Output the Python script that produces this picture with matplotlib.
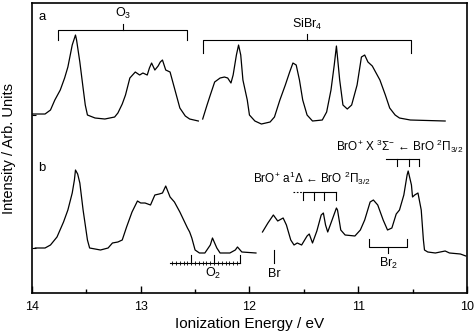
import numpy as np
import matplotlib
matplotlib.use("Agg")
import matplotlib.pyplot as plt

plt.rcParams["font.family"] = ["Liberation Sans", "DejaVu Sans"]
plt.rcParams["mathtext.fontset"] = "custom"
plt.rcParams["mathtext.rm"] = "Liberation Sans"
plt.rcParams["mathtext.it"] = "Liberation Sans"

# spectrum a (O3 + SiBr4), two pieces
a1_energy = [14.00, 13.88, 13.83, 13.79, 13.74, 13.70, 13.67, 13.63, 13.60, 13.59, 13.56, 13.53,
             13.51, 13.49, 13.42, 13.33, 13.24, 13.21, 13.17, 13.14, 13.10, 13.05, 13.01, 12.98,
             12.94, 12.92, 12.90, 12.87, 12.84, 12.82, 12.80, 12.77, 12.73, 12.69, 12.64, 12.59,
             12.55, 12.47]
a1_signal = [179, 179, 183, 193, 203, 215, 226, 248, 258, 253, 231, 205,
             188, 178, 175, 174, 176, 180, 189, 198, 215, 221, 218, 220,
             218, 225, 230, 223, 227, 231, 233, 223, 221, 205, 185, 177,
             174, 172]
a2_energy = [12.43, 12.39, 12.36, 12.32, 12.27, 12.23, 12.20, 12.17, 12.15, 12.12, 12.10, 12.08,
             12.06, 12.02, 12.00, 11.95, 11.89, 11.81, 11.77, 11.72, 11.67, 11.63, 11.60, 11.57,
             11.54, 11.51, 11.47, 11.42, 11.33, 11.29, 11.25, 11.22, 11.20, 11.17, 11.14, 11.10,
             11.06, 11.01, 10.97, 10.94, 10.91, 10.87, 10.85, 10.80, 10.75, 10.71, 10.66, 10.62,
             10.52, 10.20]
a2_signal = [174, 188, 198, 211, 215, 216, 215, 210, 218, 238, 248, 238,
             213, 193, 178, 172, 169, 171, 176, 193, 208, 221, 230, 228,
             213, 193, 178, 172, 173, 181, 203, 228, 247, 213, 188, 184,
             188, 208, 236, 238, 231, 227, 223, 213, 198, 185, 178, 175,
             173, 172]

# spectrum b (discharge products), two pieces
b1_energy = [13.97, 13.88, 13.83, 13.77, 13.71, 13.67, 13.63, 13.61, 13.60, 13.58, 13.56, 13.53,
             13.49, 13.47, 13.37, 13.30, 13.26, 13.21, 13.17, 13.13, 13.08, 13.03, 13.00, 12.96,
             12.91, 12.87, 12.83, 12.80, 12.77, 12.73, 12.69, 12.64, 12.57, 12.55, 12.53, 12.50,
             12.46, 12.41, 12.36, 12.34, 12.30, 12.27, 12.18, 12.13, 12.11, 12.07, 11.94]
b1_signal = [45, 45, 48, 56, 71, 83, 100, 113, 123, 119, 110, 83,
             53, 45, 43, 45, 50, 51, 53, 66, 81, 92, 90, 90,
             88, 98, 99, 100, 107, 96, 91, 81, 65, 61, 55, 43,
             40, 40, 48, 55, 45, 40, 40, 43, 46, 41, 40]
b2_energy = [11.88, 11.83, 11.78, 11.74, 11.69, 11.66, 11.62, 11.59, 11.56, 11.52, 11.47, 11.45,
             11.42, 11.38, 11.34, 11.32, 11.30, 11.28, 11.24, 11.20, 11.19, 11.16, 11.12, 11.03,
             10.98, 10.94, 10.89, 10.86, 10.82, 10.77, 10.73, 10.69, 10.65, 10.62, 10.58, 10.55,
             10.54, 10.51, 10.50, 10.48, 10.45, 10.42, 10.40, 10.39, 10.36, 10.29, 10.20, 10.16,
             10.06, 10.01]
b2_signal = [61, 70, 78, 72, 75, 68, 53, 48, 50, 48, 57, 59,
             50, 62, 78, 80, 68, 61, 73, 85, 83, 63, 58, 57,
             63, 73, 91, 93, 88, 73, 63, 65, 79, 83, 98, 118,
             122, 108, 96, 98, 100, 83, 53, 43, 41, 40, 42, 40,
             39, 37]
baselines = [178, 45]

# assignment combs
o3_span = (13.76, 12.57)
sibr4_span = (12.43, 10.51)
x_state_lines = [10.64, 10.53, 10.44]
a_state_lines = [11.51, 11.41, 11.31, 11.20]
o2_lines = [12.54, 12.33, 12.09]
br_line = 11.775
br2_span = (10.90, 10.55)

fig = plt.figure(figsize=(4.74, 3.36), dpi=100)
ax = fig.add_axes([0.0675, 0.128, 0.9175, 0.863])

k = dict(color="black", lw=0.9)
ax.plot(a1_energy, a1_signal, **k)
ax.plot(a2_energy, a2_signal, **k)
ax.plot(b1_energy, b1_signal, **k)
ax.plot(b2_energy, b2_signal, **k)

lk = dict(color="black", lw=0.8)

# O3 bracket
ax.plot([o3_span[0], o3_span[0], o3_span[1], o3_span[1]], [253, 263, 263, 253], **lk)
mid = (o3_span[0] + o3_span[1]) / 2
ax.plot([mid, mid], [263, 269], **lk)
ax.text(mid, 280, "O$_3$", ha="center", va="center", fontsize=9)

# SiBr4 bracket
ax.plot([sibr4_span[0], sibr4_span[0], sibr4_span[1], sibr4_span[1]], [240, 253, 253, 240], **lk)
mid = (sibr4_span[0] + sibr4_span[1]) / 2
ax.plot([mid, mid], [253, 259], **lk)
ax.text(mid, 269, "SiBr$_4$", ha="center", va="center", fontsize=9)

ax.text(13.91, 276, "a", ha="center", va="center", fontsize=9.5)
ax.text(13.91, 125, "b", ha="center", va="center", fontsize=9.5)

# BrO+ X comb
ax.plot([10.74, x_state_lines[-1]], [134, 134], **lk)
for e in x_state_lines:
    ax.plot([e, e], [134, 127], **lk)
ax.text(10.615, 147, "BrO$^{+}$ X $^{3}\\Sigma^{-}$ \u2190 BrO $^{2}\\Pi_{3/2}$",
        ha="center", va="center", fontsize=8.5)

# BrO+ a comb
ax.plot([11.60, a_state_lines[0]], [101, 101], color="black", lw=0.8, ls=(0, (1.5, 1.5)))
ax.plot([a_state_lines[0], a_state_lines[-1]], [101, 101], **lk)
for e in a_state_lines:
    ax.plot([e, e], [101, 93], **lk)
ax.text(11.42, 115, "BrO$^{+}$ a$^{1}\\Delta$ \u2190 BrO $^{2}\\Pi_{3/2}$",
        ha="center", va="center", fontsize=8.5)

# O2 comb
ax.plot([12.73, o2_lines[-1]], [30, 30], **lk)
hatch = np.arange(12.71, 12.10, -0.035)
ax.plot(hatch, np.full(len(hatch), 30), ls="none", marker="|", ms=2.5, mew=0.6, color="black")
for e in o2_lines:
    ax.plot([e, e], [30, 38], **lk)
ax.text(o2_lines[1], 20, "O$_2$", ha="center", va="center", fontsize=9)

# Br line
ax.plot([br_line, br_line], [43, 30], **lk)
ax.text(br_line, 19, "Br", ha="center", va="center", fontsize=9)

# Br2 bracket
ax.plot([br2_span[0], br2_span[0], br2_span[1], br2_span[1]], [54, 46, 46, 54], **lk)
mid = (br2_span[0] + br2_span[1]) / 2
ax.plot([mid, mid], [46, 40], **lk)
ax.text(mid, 30, "Br$_2$", ha="center", va="center", fontsize=9)

ax.set_xlim(14, 10)
ax.set_ylim(0, 290)
ax.set_xticks([14, 13, 12, 11, 10])
ax.set_xticks([13.5, 12.5, 11.5, 10.5], minor=True)
ax.set_xticklabels(["14", "13", "12", "11", "10"])
ax.set_yticks(baselines)
ax.set_yticklabels([])
ax.tick_params(axis="y", direction="in", length=3, width=0.8)
ax.tick_params(axis="x", which="major", direction="in", length=5, width=1, labelsize=9, pad=6)
ax.tick_params(axis="x", which="minor", direction="in", length=3, width=1)
for s in ax.spines.values():
    s.set_linewidth(1.2)

ax.set_xlabel("Ionization Energy / eV", fontsize=11, labelpad=3)
ax.set_ylabel("Intensity / Arb. Units", fontsize=10.5, labelpad=8)

fig.savefig("out.png", dpi=100)
